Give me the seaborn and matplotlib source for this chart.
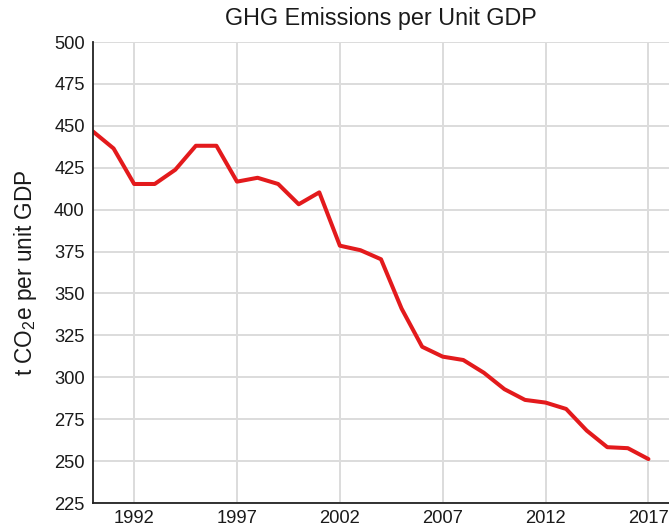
import matplotlib
matplotlib.use("Agg")
import matplotlib.pyplot as plt
import seaborn as sns
import pandas as pd

years = list(range(1990, 2018))
emissions = [446.6, 436.5, 415.3, 415.3, 423.8, 438.1, 438.1, 416.7, 419.0, 415.3,
             403.2, 410.3, 378.5, 375.8, 370.4, 341.0, 318.2, 312.3, 310.3, 302.7,
             292.9, 286.5, 284.9, 281.1, 268.2, 258.3, 257.7, 251.2]
x_ticks = [1992, 1997, 2002, 2007, 2012, 2017]
y_ticks = list(range(225, 501, 25))
title = "GHG Emissions per Unit GDP"
y_label = "t CO$_2$e per unit GDP"

df = pd.DataFrame({"year": years, "value": emissions})

sns.set_theme(style="whitegrid")
plt.rcParams["font.family"] = ["Liberation Sans", "DejaVu Sans"]
plt.rcParams["mathtext.fontset"] = "custom"
plt.rcParams["mathtext.rm"] = "Liberation Sans"
plt.rcParams["mathtext.it"] = "Liberation Sans"

fig = plt.figure(figsize=(6.69, 5.29), dpi=100)
ax = fig.add_axes([93/669, 1 - 503/529, (669 - 93)/669, (503 - 42)/529])

sns.lineplot(data=df, x="year", y="value", ax=ax, color="#e31a1c", linewidth=2.9)

ax.set_xlim(1990, 2018)
ax.set_ylim(225, 500)
ax.set_xticks(x_ticks)
ax.set_yticks(y_ticks)
ax.tick_params(axis="both", labelsize=13.2, colors="#1a1a1a", length=0)
ax.tick_params(axis="y", pad=6)
ax.tick_params(axis="x", pad=5)
ax.grid(True, color="#dcdcdc", linewidth=1.4)
for s in ["top", "right"]:
    ax.spines[s].set_visible(False)
for s in ["left", "bottom"]:
    ax.spines[s].set_visible(True)
    ax.spines[s].set_color("#222222")
    ax.spines[s].set_linewidth(1.3)
ax.set_facecolor("white")
ax.set_xlabel("")
ax.set_ylabel(y_label, fontsize=16.3, color="#1a1a1a", labelpad=11)
ax.set_title(title, fontsize=16.8, color="#1a1a1a", pad=12)

fig.savefig("out.png", dpi=100, facecolor="white")
